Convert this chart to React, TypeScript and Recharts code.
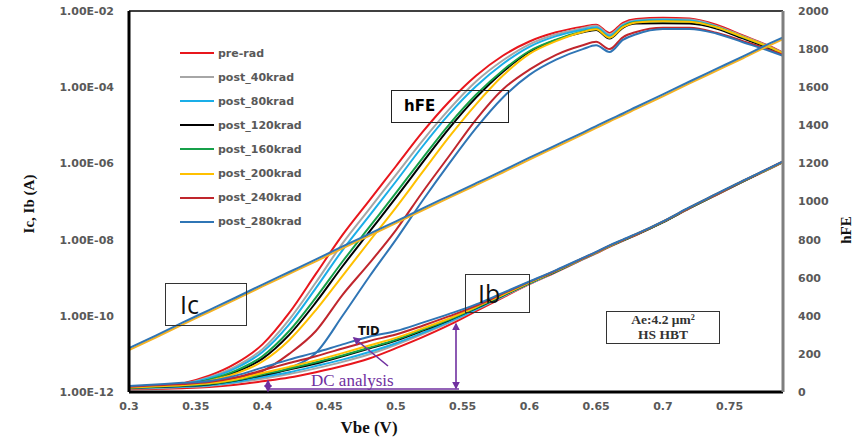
import React from "react";
import { ComposedChart, Line, XAxis, YAxis, ReferenceLine } from "recharts";

// Vbe sweep (V)
const vbe = [0.3, 0.32, 0.34, 0.36, 0.38, 0.4, 0.42, 0.44, 0.46, 0.48, 0.5, 0.52, 0.54, 0.56, 0.58, 0.6, 0.62, 0.64, 0.65, 0.66, 0.67, 0.68, 0.7, 0.72, 0.74, 0.76, 0.78, 0.79];

// hFE per dose (right axis)
const hfePre = [20, 28, 45, 85, 150, 250, 415, 620, 825, 1005, 1185, 1365, 1525, 1660, 1765, 1840, 1888, 1918, 1928, 1885, 1938, 1958, 1965, 1960, 1928, 1872, 1815, 1782];
const hfe40 = [20, 27, 42, 78, 135, 225, 380, 575, 780, 960, 1140, 1320, 1485, 1630, 1740, 1825, 1878, 1910, 1922, 1878, 1930, 1952, 1958, 1955, 1922, 1868, 1812, 1780];
const hfe80 = [19, 26, 40, 72, 125, 210, 355, 545, 745, 925, 1105, 1290, 1460, 1605, 1722, 1812, 1868, 1902, 1915, 1870, 1925, 1948, 1954, 1950, 1918, 1865, 1810, 1778];
const hfe120 = [18, 24, 36, 62, 105, 175, 300, 470, 660, 840, 1020, 1205, 1385, 1545, 1680, 1785, 1847, 1888, 1900, 1855, 1912, 1934, 1936, 1934, 1908, 1856, 1802, 1772];
const hfe160 = [19, 25, 38, 65, 112, 188, 320, 495, 685, 865, 1045, 1228, 1405, 1560, 1688, 1790, 1850, 1892, 1905, 1860, 1918, 1942, 1946, 1944, 1915, 1862, 1808, 1776];
const hfe200 = [18, 24, 35, 58, 97, 160, 272, 430, 610, 790, 968, 1155, 1340, 1510, 1660, 1775, 1842, 1890, 1904, 1860, 1915, 1940, 1946, 1944, 1915, 1864, 1810, 1778];
const hfe240 = [20, 26, 36, 55, 75, 110, 200, 320, 510, 675, 850, 1050, 1240, 1430, 1588, 1692, 1770, 1820, 1838, 1800, 1862, 1890, 1912, 1912, 1886, 1842, 1796, 1770];
const hfe280 = [18, 22, 30, 42, 58, 78, 125, 205, 400, 605, 800, 1005, 1200, 1385, 1545, 1665, 1745, 1800, 1820, 1785, 1848, 1878, 1905, 1906, 1882, 1836, 1790, 1765];

// Ib per dose, read as log10(A)
const ibPre = [-11.93, -11.92, -11.9, -11.87, -11.81, -11.72, -11.62, -11.48, -11.32, -11.12, -10.85, -10.56, -10.24, -9.88, -9.52, -9.17, -8.85, -8.52, -8.36, -8.19, -8.03, -7.88, -7.55, -7.18, -6.83, -6.48, -6.14, -5.97];
const ib40 = [-11.91, -11.9, -11.87, -11.84, -11.76, -11.65, -11.53, -11.38, -11.21, -11.01, -10.76, -10.48, -10.18, -9.84, -9.5, -9.16, -8.84, -8.51, -8.35, -8.18, -8.03, -7.87, -7.55, -7.17, -6.82, -6.47, -6.14, -5.97];
const ib80 = [-11.9, -11.88, -11.86, -11.82, -11.74, -11.61, -11.48, -11.32, -11.15, -10.95, -10.72, -10.45, -10.15, -9.83, -9.48, -9.15, -8.84, -8.51, -8.35, -8.18, -8.02, -7.87, -7.54, -7.17, -6.82, -6.47, -6.13, -5.96];
const ib120 = [-11.89, -11.87, -11.84, -11.8, -11.7, -11.56, -11.41, -11.25, -11.06, -10.86, -10.65, -10.39, -10.11, -9.8, -9.47, -9.14, -8.83, -8.5, -8.34, -8.17, -8.02, -7.87, -7.54, -7.17, -6.82, -6.47, -6.13, -5.96];
const ib160 = [-11.89, -11.86, -11.83, -11.79, -11.69, -11.54, -11.39, -11.22, -11.04, -10.84, -10.63, -10.37, -10.1, -9.79, -9.46, -9.14, -8.83, -8.5, -8.34, -8.17, -8.02, -7.87, -7.54, -7.17, -6.82, -6.47, -6.13, -5.96];
const ib200 = [-11.88, -11.85, -11.82, -11.77, -11.67, -11.5, -11.34, -11.17, -10.98, -10.78, -10.58, -10.33, -10.07, -9.77, -9.45, -9.13, -8.82, -8.5, -8.34, -8.17, -8.01, -7.86, -7.53, -7.16, -6.81, -6.46, -6.13, -5.96];
const ib240 = [-11.86, -11.82, -11.79, -11.74, -11.62, -11.43, -11.24, -11.06, -10.86, -10.66, -10.49, -10.26, -10.01, -9.74, -9.42, -9.11, -8.81, -8.49, -8.33, -8.16, -8.01, -7.86, -7.53, -7.16, -6.81, -6.46, -6.12, -5.95];
const ib280 = [-11.84, -11.8, -11.76, -11.71, -11.57, -11.36, -11.15, -10.96, -10.75, -10.55, -10.4, -10.18, -9.95, -9.7, -9.4, -9.1, -8.8, -8.48, -8.32, -8.15, -8.0, -7.85, -7.52, -7.15, -6.8, -6.45, -6.12, -5.95];

// Ic (all doses overlap), log10(A)
const icTop = [-10.85, -10.52, -10.18, -9.85, -9.52, -9.18, -8.85, -8.52, -8.18, -7.85, -7.52, -7.18, -6.85, -6.52, -6.19, -5.85, -5.52, -5.19, -5.02, -4.85, -4.69, -4.52, -4.19, -3.85, -3.52, -3.19, -2.85, -2.69];
const icLow = [-10.9, -10.57, -10.23, -9.9, -9.57, -9.23, -8.9, -8.57, -8.23, -7.9, -7.57, -7.23, -6.9, -6.57, -6.24, -5.9, -5.57, -5.24, -5.07, -4.9, -4.74, -4.57, -4.24, -3.9, -3.57, -3.24, -2.9, -2.74];

const xTicks = [0.3, 0.35, 0.4, 0.45, 0.5, 0.55, 0.6, 0.65, 0.7, 0.75];
const curTicks = [1e-12, 1e-10, 1e-8, 1e-6, 1e-4, 1e-2];
const hfeTicks = [0, 200, 400, 600, 800, 1000, 1200, 1400, 1600, 1800, 2000];

const series = [
  { key: "pre", name: "pre-rad", color: "#e8161c", hfe: hfePre, ib: ibPre },
  { key: "d40", name: "post_40krad", color: "#a6a6a6", hfe: hfe40, ib: ib40 },
  { key: "d80", name: "post_80krad", color: "#1aaee8", hfe: hfe80, ib: ib80 },
  { key: "d120", name: "post_120krad", color: "#000000", hfe: hfe120, ib: ib120 },
  { key: "d160", name: "post_160krad", color: "#16a04a", hfe: hfe160, ib: ib160 },
  { key: "d200", name: "post_200krad", color: "#ffc000", hfe: hfe200, ib: ib200 },
  { key: "d240", name: "post_240krad", color: "#c0262d", hfe: hfe240, ib: ib240 },
  { key: "d280", name: "post_280krad", color: "#2f75b5", hfe: hfe280, ib: ib280 },
];

const data = vbe.map((v, i) => {
  const row: Record<string, number> = { v, ic: 10 ** icTop[i], icLow: 10 ** icLow[i] };
  series.forEach((s) => {
    row["h_" + s.key] = s.hfe[i];
    row["ib_" + s.key] = 10 ** s.ib[i];
  });
  return row;
});

const tick = { fill: "#595959", fontSize: 11, fontWeight: 700, fontFamily: "DejaVu Sans" };
const expFmt = (v: number) => {
  const e = Math.round(Math.log10(v));
  return "1.00E" + (e < 0 ? "-" : "+") + String(Math.abs(e)).padStart(2, "0");
};

const PURPLE = "#7030a0";

export default function App() {
  return (
    <div style={{ position: "absolute", left: 0, top: 0, width: 855, height: 442, background: "#fff" }}>
      <ComposedChart width={855} height={442} data={data} margin={{ top: 11, right: 0, bottom: 0, left: 0 }}>
        <XAxis dataKey="v" type="number" domain={[0.3, 0.79]} ticks={xTicks} allowDataOverflow height={50}
          axisLine={{ stroke: "#000", strokeWidth: 3 }} tickLine={false} tick={tick} tickMargin={4}
          tickFormatter={(v) => String(+Number(v).toFixed(2))} />
        <YAxis yAxisId="cur" scale="log" domain={[1e-12, 1e-2]} ticks={curTicks} allowDataOverflow width={129}
          axisLine={{ stroke: "#000", strokeWidth: 3 }} tickLine={false} tick={tick} tickMargin={9}
          tickFormatter={expFmt} />
        <YAxis yAxisId="hfe" orientation="right" domain={[0, 2000]} ticks={hfeTicks} allowDataOverflow width={72}
          axisLine={{ stroke: "#7f7f7f", strokeWidth: 3 }} tickLine={false} tick={tick} tickMargin={9} />
        <ReferenceLine yAxisId="hfe" y={2000} stroke="#404040" strokeWidth={2} />
        {series.map((s) => (
          <Line key={"h" + s.key} yAxisId="hfe" type="monotone" dataKey={"h_" + s.key} stroke={s.color}
            strokeWidth={2} dot={false} isAnimationActive={false} />
        ))}
        {series.map((s) => (
          <Line key={"ib" + s.key} yAxisId="cur" type="monotone" dataKey={"ib_" + s.key} stroke={s.color}
            strokeWidth={2} dot={false} isAnimationActive={false} />
        ))}
        <Line yAxisId="cur" type="monotone" dataKey="icLow" stroke="#f4b223" strokeWidth={2} dot={false} isAnimationActive={false} />
        <Line yAxisId="cur" type="monotone" dataKey="ic" stroke="#2f75b5" strokeWidth={2} dot={false} isAnimationActive={false} />
      </ComposedChart>

      {/* legend */}
      <div style={{ position: "absolute", left: 180, top: 41 }}>
        {series.map((s) => (
          <div key={s.key} style={{ display: "flex", alignItems: "center", height: 24.1 }}>
            <div style={{ width: 34, height: 2, background: s.color }} />
            <span style={{ marginLeft: 4, color: "#595959", fontSize: 11, fontWeight: 700, fontFamily: "DejaVu Sans" }}>{s.name}</span>
          </div>
        ))}
      </div>

      {/* axis titles */}
      <div style={{ position: "absolute", left: 29, top: 204, transform: "translate(-50%,-50%) rotate(-90deg)", whiteSpace: "nowrap",
        fontFamily: "Liberation Serif", fontWeight: 700, fontSize: 15, color: "#111" }}>Ic, Ib (A)</div>
      <div style={{ position: "absolute", left: 846, top: 230, transform: "translate(-50%,-50%) rotate(-90deg)", whiteSpace: "nowrap",
        fontFamily: "Liberation Serif", fontWeight: 700, fontSize: 15, color: "#111" }}>hFE</div>
      <div style={{ position: "absolute", left: 369, top: 428, transform: "translate(-50%,-50%)", whiteSpace: "nowrap",
        fontFamily: "Liberation Serif", fontWeight: 700, fontSize: 17, color: "#111" }}>Vbe (V)</div>

      {/* annotation boxes */}
      <div style={{ position: "absolute", left: 391, top: 90, width: 118, height: 33, border: "1px solid #222",
        fontFamily: "DejaVu Sans", fontWeight: 700, fontSize: 15, lineHeight: "31px", paddingLeft: 12, boxSizing: "border-box" }}>hFE</div>
      <div style={{ position: "absolute", left: 165, top: 283, width: 82, height: 43, border: "1px solid #333",
        fontFamily: "Open Sans", fontSize: 25, lineHeight: "40px", paddingLeft: 14, boxSizing: "border-box", color: "#111" }}>Ic</div>
      <div style={{ position: "absolute", left: 465, top: 274, width: 65, height: 39, border: "1px solid #333",
        fontFamily: "Open Sans", fontSize: 25, lineHeight: "36px", paddingLeft: 12, boxSizing: "border-box", color: "#111" }}>Ib</div>
      <div style={{ position: "absolute", left: 606, top: 311, width: 114, height: 33, border: "1px solid #333", background: "#fff",
        fontFamily: "Liberation Serif", fontWeight: 700, fontSize: 13.5, lineHeight: "15px", textAlign: "center", color: "#333",
        boxSizing: "border-box" }}>Ae:4.2 μm²<br />HS HBT</div>
      <div style={{ position: "absolute", left: 358, top: 324, fontFamily: "DejaVu Sans", fontWeight: 700, fontSize: 11.5, color: "#111" }}>TID</div>
      <div style={{ position: "absolute", left: 311, top: 371, fontFamily: "Liberation Serif", fontSize: 17, color: PURPLE }}>DC analysis</div>

      <svg width={855} height={442} style={{ position: "absolute", left: 0, top: 0, pointerEvents: "none" }}>
        <defs>
          <marker id="ah" viewBox="0 0 10 10" refX="8" refY="5" markerWidth="5" markerHeight="5" orient="auto-start-reverse">
            <path d="M0,0 L10,5 L0,10 z" fill={PURPLE} />
          </marker>
        </defs>
        <line x1={388} y1={366} x2={354} y2={338} stroke={PURPLE} strokeWidth={1.6} markerEnd="url(#ah)" />
        <line x1={268} y1={389} x2={459} y2={389} stroke={PURPLE} strokeWidth={1.6} />
        <line x1={268} y1={381} x2={268} y2={391} stroke={PURPLE} strokeWidth={1.6} markerStart="url(#ah)" markerEnd="url(#ah)" />
        <line x1={456} y1={324} x2={456} y2={388} stroke={PURPLE} strokeWidth={1.6} markerStart="url(#ah)" markerEnd="url(#ah)" />
      </svg>
    </div>
  );
}
